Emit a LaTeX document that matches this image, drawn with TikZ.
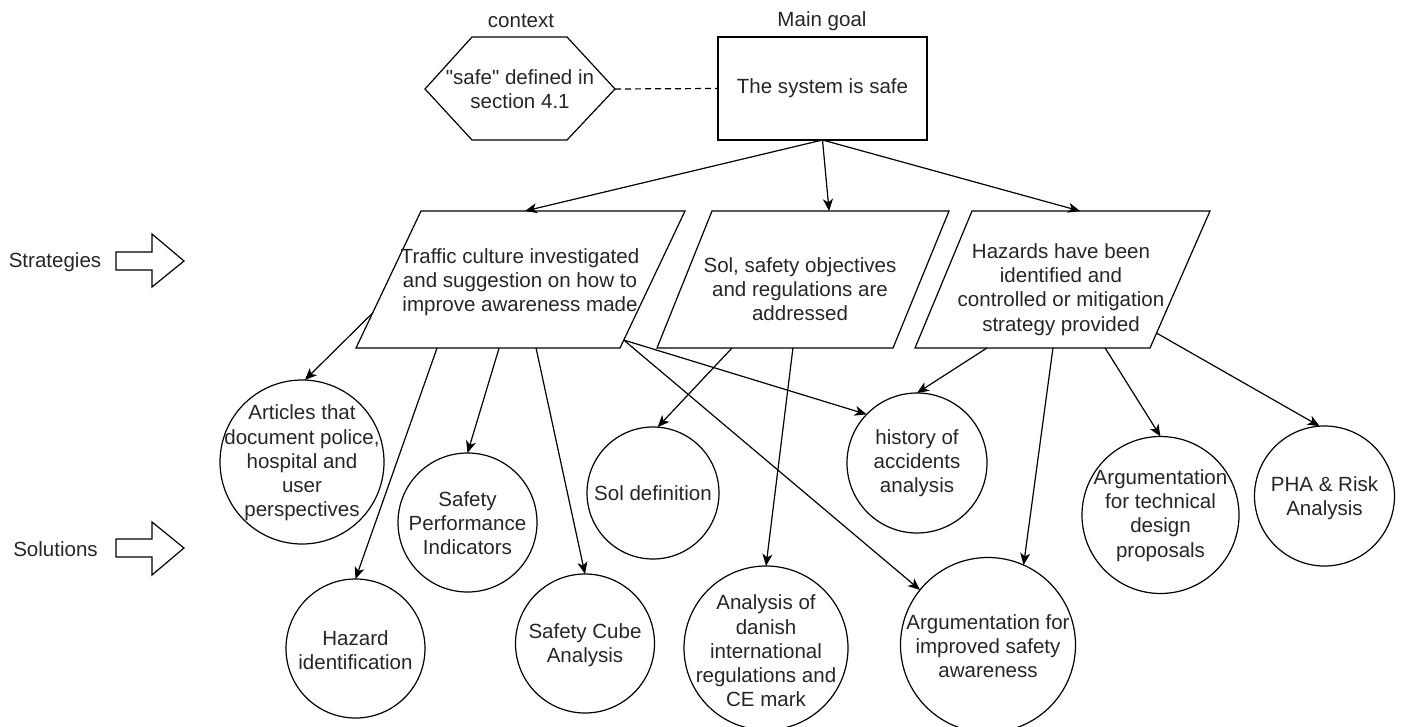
\documentclass[tikz,border=0pt]{standalone}
\usepackage{fontspec}
\setmainfont{Liberation Sans}
\usetikzlibrary{arrows.meta,calc}
\newcommand{\sqt}{\XeTeXglyph\numexpr\XeTeXcharglyph"22\relax}
\begin{document}
\begin{tikzpicture}[x=0.75pt,y=-0.75pt,
  every node/.style={font=\fontsize{15.4}{18.2}\selectfont, text=black!85},
  ln/.style={line width=0.9pt, draw=black},
  arr/.style={ln, -{Stealth[length=9pt,width=7.5pt,inset=2.5pt]}},
  sol/.style={circle, draw=black, line width=0.9pt, inner sep=0pt, outer sep=0pt},
  txt/.style={align=center, inner sep=0pt},
  shp/.style={line width=0.9pt, draw=black, line join=miter}
]
\useasboundingbox (0,0) rectangle (1402,727);

% side labels
\node[txt] (strat) at (55,262) {Strategies};
\draw[shp] (116,252) -- (152,252) -- (152,234) -- (184,261) -- (152,287) -- (152,270) -- (116,270) -- cycle;
\node[txt] (solu) at (55.5,549) {Solutions};
\draw[shp] (116,539) -- (152,539) -- (152,522) -- (184,548) -- (152,575) -- (152,557) -- (116,557) -- cycle;

% top labels
\node[txt] (ctxlbl) at (521,21) {context};
\node[txt] (goallbl) at (822,21) {Main goal};

% context hexagon
\coordinate (hl) at (425,89);
\coordinate (hr) at (615,89);
\draw[shp] (hl) -- (472,37) -- (567,37) -- (hr) -- (567,140) -- (472,140) -- cycle;
\node[txt] (ctx) at (520,89) {\sqt safe\sqt{} defined in\\section 4.1};

% main goal
\node[draw=black, line width=0.9pt, minimum width=156.75pt, minimum height=77.25pt,
      inner sep=0pt, outer sep=0pt] (goal) at (822.5,88.5) {The system is safe};
\draw[ln, dash pattern=on 4.5pt off 3pt] (hr) -- (goal.west);

% strategies (parallelograms)
\coordinate (p1bl) at (356,348); \coordinate (p1br) at (620,348);
\coordinate (p1tr) at (685,211); \coordinate (p1tl) at (421,211);
\draw[shp] (p1bl) -- (p1br) -- (p1tr) -- (p1tl) -- cycle;
\node[txt] (p1) at (520,282) {Traffic culture investigated\\and suggestion on how to\\improve awareness made};

\coordinate (p2bl) at (657,348); \coordinate (p2br) at (893,348);
\coordinate (p2tr) at (949,211); \coordinate (p2tl) at (712,211);
\draw[shp] (p2bl) -- (p2br) -- (p2tr) -- (p2tl) -- cycle;
\node[txt] (p2) at (800,289) {Sol, safety objectives\\and regulations are\\addressed};

\coordinate (p3bl) at (915,348); \coordinate (p3br) at (1150,348);
\coordinate (p3tr) at (1210,211); \coordinate (p3tl) at (972,211);
\draw[shp] (p3bl) -- (p3br) -- (p3tr) -- (p3tl) -- cycle;
\node[txt] (p3) at (1061,289.5) {Hazards have been\\identified and\\controlled or mitigation\\strategy provided};

% solutions (circles)
\node[sol, minimum size=123pt] (c1) at (302,462) {};
\node[txt] (c1t) at (302,463) {Articles that\\document police,\\hospital and\\user\\perspectives};
\node[sol, minimum size=104.25pt] (c2) at (467.5,522.5) {};
\node[txt] (c2t) at (467.5,523) {Safety\\Performance\\Indicators};
\node[sol, minimum size=104.25pt] (c3) at (355.5,648.5) {};
\node[txt] (c3t) at (355.5,650) {Hazard\\identification};
\node[sol, minimum size=104.25pt] (c4) at (585,643.5) {};
\node[txt] (c4t) at (585,645) {Safety Cube\\Analysis};
\node[sol, minimum size=99pt] (c5) at (653,493) {};
\node[txt] (c5t) at (653,493) {Sol definition};
\node[sol, minimum size=123pt] (c6) at (766,648) {};
\node[txt] (c6t) at (766,651) {Analysis of\\danish\\international\\regulations and\\CE mark};
\node[sol, minimum size=105pt] (c7) at (917,463) {};
\node[txt] (c7t) at (917,463) {history of\\accidents\\analysis};
\node[sol, minimum size=131.25pt] (c8) at (988,645) {};
\node[txt] (c8t) at (988,646) {Argumentation for\\improved safety\\awareness};
\node[sol, minimum size=117.75pt] (c9) at (1160.5,515) {};
\node[txt] (c9t) at (1160.5,515.5) {Argumentation\\for technical\\design\\proposals};
\node[sol, minimum size=105pt] (c10) at (1324.5,496) {};
\node[txt] (c10t) at (1324.5,498) {PHA \& Risk\\Analysis};

% goal -> strategies
\draw[arr] (goal.south) -- ($(p1tl)!0.394!(p1tr)$);
\draw[arr] (goal.south) -- ($(p2tl)!0.494!(p2tr)$);
\draw[arr] (goal.south) -- ($(p3tl)!0.454!(p3tr)$);

% strategy 1 -> solutions
\draw[arr] ($(p1bl)!0.255!(p1tl)$) -- (c1.88);
\draw[arr] ($(p1bl)!0.307!(p1br)$) -- (c3.north);
\draw[arr] ($(p1bl)!0.542!(p1br)$) -- (c2.north);
\draw[arr] ($(p1bl)!0.682!(p1br)$) -- (c4.north);
\draw[arr] ($(p1br)!0.058!(p1tr)$) -- (c7.136);
\draw[arr] ($(p1br)!0.058!(p1tr)$) -- (c8.141);

% strategy 2 -> solutions
\draw[arr] ($(p2bl)!0.318!(p2br)$) -- (c5.86);
\draw[arr] ($(p2bl)!0.576!(p2br)$) -- (c6.north);

% strategy 3 -> solutions
\draw[arr] ($(p3bl)!0.306!(p3br)$) -- (c7.north);
\draw[arr] ($(p3bl)!0.587!(p3br)$) -- (c8.66);
\draw[arr] ($(p3bl)!0.809!(p3br)$) -- (c9.north);
\draw[arr] ($(p3br)!0.109!(p3tr)$) -- (c10.94);
\end{tikzpicture}
\end{document}
